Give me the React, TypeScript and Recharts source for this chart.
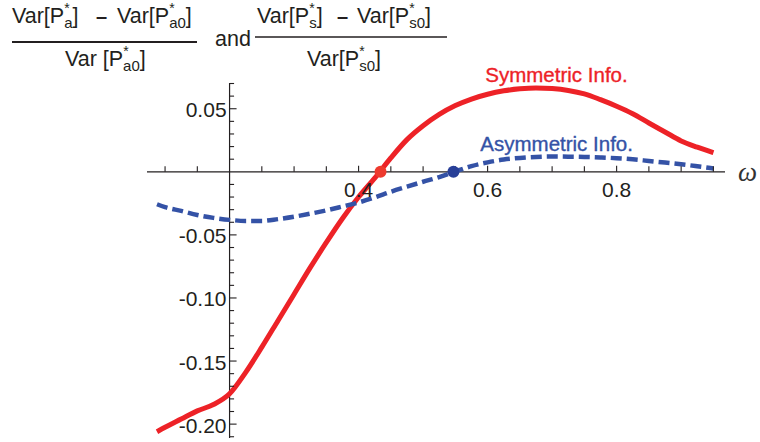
import React from 'react';
import { LineChart, Line, XAxis, YAxis, ReferenceLine, ReferenceDot } from 'recharts';

// omega grid and the two relative variance differences
const omega = [
  0.0875, 0.1, 0.125, 0.15, 0.175, 0.2, 0.225, 0.25, 0.275, 0.3, 0.325, 0.35, 0.375, 0.4,
  0.425, 0.45, 0.475, 0.5, 0.525, 0.55, 0.575, 0.6, 0.625, 0.65, 0.675, 0.7, 0.725, 0.75,
  0.775, 0.8, 0.825, 0.85, 0.875, 0.9, 0.925, 0.95,
];
const symmetric = [
  -0.206, -0.2025, -0.196, -0.1895, -0.1845, -0.176, -0.159, -0.139, -0.118, -0.097, -0.076, -0.056, -0.037, -0.02,
  -0.005, 0.011, 0.0255, 0.0365, 0.0455, 0.0525, 0.0577, 0.0615, 0.0642, 0.0658, 0.0665, 0.066, 0.0645, 0.0618,
  0.0572, 0.052, 0.046, 0.0387, 0.0316, 0.0245, 0.0195, 0.0151,
];
const asymmetric = [
  -0.0257, -0.028, -0.031, -0.0342, -0.0365, -0.0381, -0.0389, -0.0389, -0.0375, -0.0356, -0.0332, -0.0306, -0.0275, -0.0243,
  -0.0203, -0.0158, -0.0118, -0.0079, -0.0042, 0.0003, 0.0045, 0.0075, 0.0097, 0.011, 0.0118, 0.0121, 0.012, 0.0118,
  0.0114, 0.0108, 0.0099, 0.0086, 0.0073, 0.006, 0.0044, 0.0027,
];

// zero crossings marked with dots
const symZero = 0.434;
const asymZero = 0.547;

const xMinorTicks = [0.1, 0.15, 0.25, 0.3, 0.35, 0.45, 0.5, 0.55, 0.65, 0.7, 0.75, 0.85, 0.9, 0.95];
const xMajorTicks = [0.4, 0.6, 0.8];
const yMinorTicks = [
  0.07, 0.06, 0.04, 0.03, 0.02, 0.01, -0.01, -0.02, -0.03, -0.04, -0.06, -0.07, -0.08, -0.09,
  -0.11, -0.12, -0.13, -0.14, -0.16, -0.17, -0.18, -0.19, -0.21,
];
const yMajorTicks = [0.05, -0.05, -0.1, -0.15, -0.2];

const yAxisAt = 0.2;

const RED = '#ed2227';
const BLUE = '#3452a6';
const INK = '#231f20';
const FONT = '"Liberation Sans", Arial, sans-serif';

const data = omega.map((w, i) => ({ w, sym: symmetric[i], asym: asymmetric[i] }));

const VarP = ({ x, y, label, sub }: { x: number; y: number; label: string; sub: string }) => (
  <text x={x} y={y} fontSize={21.5} fill={INK} fontFamily={FONT}>
    <tspan>{label}</tspan>
    <tspan fontSize={14} dy={-10}>*</tspan>
    <tspan fontSize={15} dx={-5.5} dy={15}>{sub}</tspan>
    <tspan dy={-5}>]</tspan>
  </text>
);

const Title = () => (
  <svg width={760} height={80} style={{ position: 'absolute', left: 0, top: 0, pointerEvents: 'none' }}>
    <VarP x={12} y={23} label="Var[P" sub="a" />
    <text x={96} y={23} fontSize={20} fontWeight="bold" fill={INK} fontFamily={FONT}>–</text>
    <VarP x={117} y={23} label="Var[P" sub="a0" />
    <line x1={12} x2={197} y1={42} y2={42} stroke={INK} strokeWidth={2} />
    <VarP x={65} y={66} label="Var [P" sub="a0" />
    <text x={215} y={46} fontSize={21.5} fill={INK} fontFamily={FONT}>and</text>
    <line x1={255} x2={447} y1={37} y2={37} stroke={INK} strokeWidth={1.3} />
    <VarP x={257} y={23} label="Var[P" sub="s" />
    <text x={337} y={23} fontSize={20} fontWeight="bold" fill={INK} fontFamily={FONT}>–</text>
    <VarP x={357} y={23} label="Var[P" sub="s0" />
    <VarP x={307} y={66} label="Var[P" sub="s0" />
  </svg>
);

const xTick = (len: number, label?: string) => (p: any) => (
  <g>
    <line x1={p.cx} x2={p.cx} y1={p.cy} y2={p.cy - len} stroke={INK} strokeWidth={1.1} />
    {label && (
      <text x={p.cx} y={p.cy + 18} textAnchor="middle" dominantBaseline="central" fontSize={21} fill={INK} fontFamily={FONT}>
        {label}
      </text>
    )}
  </g>
);

const yTick = (len: number, label?: string) => (p: any) => (
  <g>
    <line x1={p.cx} x2={p.cx + len} y1={p.cy} y2={p.cy} stroke={INK} strokeWidth={1.1} />
    {label && (
      <text x={p.cx - 3} y={p.cy + 1} textAnchor="end" dominantBaseline="central" fontSize={21} fill={INK} fontFamily={FONT}>
        {label}
      </text>
    )}
  </g>
);

const seriesLabel = (text: string, color: string) => (p: any) => (
  <text x={p.cx} y={p.cy} dominantBaseline="central" fontSize={20.5} fill={color} stroke={color} strokeWidth={0.35} fontFamily={FONT}>
    {text}
  </text>
);

export default function App() {
  return (
    <div style={{ position: 'absolute', left: 0, top: 0, width: 760, height: 442, background: '#fff' }}>
      <LineChart width={760} height={442} data={data} margin={{ top: 83, right: 35, bottom: 4, left: 147 }}>
        <XAxis type="number" dataKey="w" domain={[0.072, 0.968]} allowDataOverflow hide />
        <YAxis type="number" domain={[-0.211, 0.0704]} allowDataOverflow hide />
        <ReferenceLine x={yAxisAt} stroke={INK} strokeWidth={1.2} />
        <ReferenceLine y={0} stroke={INK} strokeWidth={1.2} />
        {xMinorTicks.map((t) => (
          <ReferenceDot key={`xm${t}`} x={t} y={0} r={0} shape={xTick(5.5)} />
        ))}
        {xMajorTicks.map((t) => (
          <ReferenceDot key={`xM${t}`} x={t} y={0} r={0} shape={xTick(6, t.toFixed(1))} />
        ))}
        {yMinorTicks.map((t) => (
          <ReferenceDot key={`ym${t}`} x={yAxisAt} y={t} r={0} shape={yTick(4.5)} />
        ))}
        {yMajorTicks.map((t) => (
          <ReferenceDot key={`yM${t}`} x={yAxisAt} y={t} r={0} shape={yTick(7, t.toFixed(2))} />
        ))}
        <Line type="monotone" dataKey="sym" stroke={RED} strokeWidth={5} dot={false} isAnimationActive={false} />
        <Line type="monotone" dataKey="asym" stroke={BLUE} strokeWidth={4.5} strokeDasharray="11 5" dot={false} isAnimationActive={false} />
        <ReferenceDot x={symZero} y={0} r={6} fill="#ee3a2e" stroke="none" />
        <ReferenceDot x={asymZero} y={0} r={6} fill="#283f98" stroke="none" />
        <ReferenceDot x={0.5964} y={0.0771} r={0} ifOverflow="visible" shape={seriesLabel('Symmetric Info.', RED)} />
        <ReferenceDot x={0.5887} y={0.0228} r={0} shape={seriesLabel('Asymmetric Info.', BLUE)} />
        <ReferenceDot x={0.968} y={0} r={0} ifOverflow="visible" shape={(p: any) => (
          <text x={p.cx + 13} y={p.cy} dominantBaseline="central" fontSize={27} fontStyle="italic" fill="#333" fontFamily='"Liberation Serif", serif'>ω</text>
        )} />
      </LineChart>
      <Title />
    </div>
  );
}
